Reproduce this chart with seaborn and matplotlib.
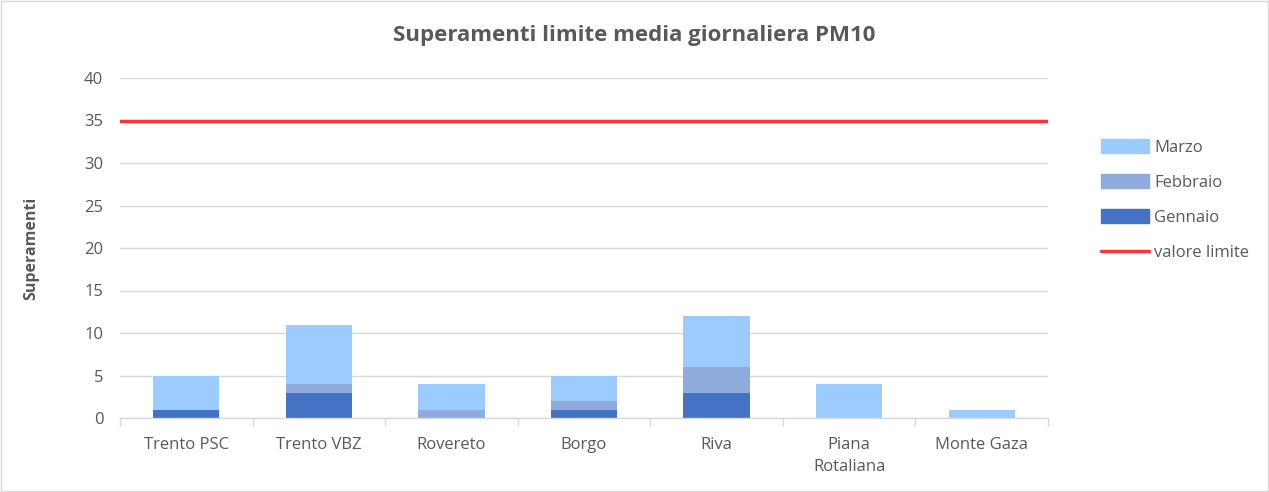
import matplotlib
matplotlib.use("Agg")
import matplotlib.pyplot as plt
import seaborn as sns
import numpy as np
import pandas as pd
from matplotlib.patches import Patch
from matplotlib.lines import Line2D

stations = ["Trento PSC", "Trento VBZ", "Rovereto", "Borgo", "Riva", "Piana\nRotaliana", "Monte Gaza"]
gennaio = [1, 3, 0, 1, 3, 0, 0]
febbraio = [0, 1, 1, 1, 3, 0, 0]
marzo = [4, 7, 3, 3, 6, 4, 1]
valore_limite = 35

sns.set_theme(style="white")
plt.rcParams['font.family'] = ['Open Sans', 'DejaVu Sans']

c_gen = "#4472C4"
c_feb = "#8FAADC"
c_mar = "#9BCBFF"
c_red = "#FF3333"
gray = "#595959"

df = pd.DataFrame({"stazione": stations, "Gennaio": gennaio, "Febbraio": febbraio, "Marzo": marzo})
b1 = np.array(gennaio)
b2 = b1 + np.array(febbraio)

fig = plt.figure(figsize=(12.69, 4.92), dpi=100)
ax = fig.add_axes([120/1269, 1-418/492, (1048-120)/1269, 340/492])

sns.barplot(data=df, x="stazione", y="Gennaio", color=c_gen, width=0.5, ax=ax, saturation=1, linewidth=0)
sns.barplot(data=df, x="stazione", y="Febbraio", color=c_feb, width=0.5, ax=ax, saturation=1, linewidth=0, bottom=b1)
sns.barplot(data=df, x="stazione", y="Marzo", color=c_mar, width=0.5, ax=ax, saturation=1, linewidth=0, bottom=b2)

ax.axhline(valore_limite, color=c_red, lw=2.5, zorder=3)

ax.set_xlim(-0.5, len(stations) - 0.5)
ax.set_ylim(0, 40)
ax.set_yticks(range(0, 41, 5))
ax.yaxis.grid(True, color="#D9D9D9", lw=1)
ax.set_axisbelow(True)
for s in ["top", "right", "left"]:
    ax.spines[s].set_visible(False)
ax.spines["bottom"].set_color("#D9D9D9")
ax.spines["bottom"].set_linewidth(1)

ax.set_xticks(np.arange(-0.5, len(stations), 1.0), minor=True)
ax.tick_params(axis="x", which="minor", length=6, color="#D9D9D9", width=1, direction="out", bottom=True)
ax.tick_params(axis="x", which="major", length=0, pad=14, labelsize=12, labelcolor=gray)
for lbl in ax.get_xticklabels():
    lbl.set_linespacing(1.5)
ax.tick_params(axis="y", length=0, pad=12, labelsize=12, labelcolor=gray)
ax.set_xlabel("")
ax.set_ylabel("Superamenti", fontsize=11.5, fontweight="bold", color=gray, labelpad=32)

fig.suptitle("Superamenti limite media giornaliera PM10", x=0.5, y=1-36/492, va="center",
             fontsize=16, fontweight="bold", color=gray)

handles = [Patch(color=c_mar, label="Marzo"), Patch(color=c_feb, label="Febbraio"),
           Patch(color=c_gen, label="Gennaio"), Line2D([0], [0], color=c_red, lw=2.5, label="valore limite")]
leg = fig.legend(handles=handles, loc="center left", bbox_to_anchor=(1086/1269, 1-200/492), frameon=False,
                 fontsize=12, labelcolor=gray, handlelength=2.9, handleheight=0.9, labelspacing=1.1, handletextpad=0.3)

fig.patches.append(plt.Rectangle((0.001, 0.002), 0.998, 0.996, transform=fig.transFigure,
                                 fill=False, edgecolor="#D9D9D9", lw=1))

fig.savefig("out.png", dpi=100)
